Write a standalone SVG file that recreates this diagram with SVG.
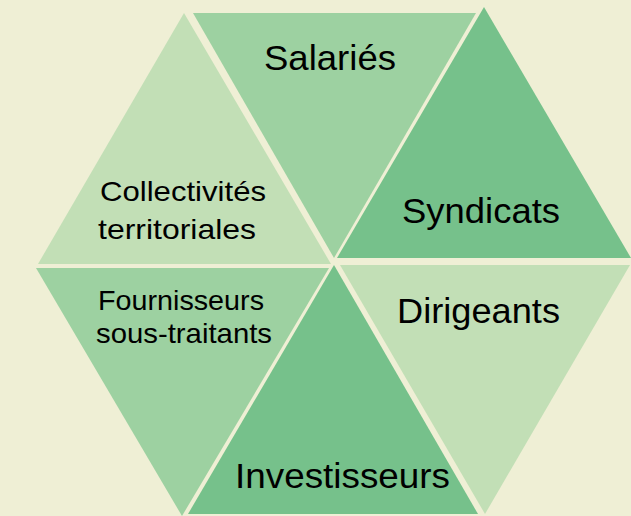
<svg xmlns="http://www.w3.org/2000/svg" width="631" height="516" viewBox="0 0 631 516">
<style>
.bg{fill:#EFEFD5}
.light{fill:#C2DFB6}
.mid{fill:#9DD1A1}
.dark{fill:#76C18B}
text{font-family:"Liberation Sans",Arial,sans-serif;fill:#000}
.big{font-size:35px}
.small{font-size:28px}
</style>
<rect class="bg" x="0" y="0" width="631" height="516"/>
<g id="collectivites">
<polygon class="light" points="184,13 38,264 331,264"/>
<text class="small" x="100" y="201" textLength="166" lengthAdjust="spacingAndGlyphs">Collectivités</text>
<text class="small" x="98" y="239" textLength="158" lengthAdjust="spacingAndGlyphs">territoriales</text>
</g>
<g id="salaries">
<polygon class="mid" points="193,13 476,13 334,258"/>
<text class="big" x="264" y="70" textLength="132" lengthAdjust="spacingAndGlyphs">Salariés</text>
</g>
<g id="syndicats">
<polygon class="dark" points="484,7 337,258 631,258"/>
<text class="big" x="402" y="223" textLength="158" lengthAdjust="spacingAndGlyphs">Syndicats</text>
</g>
<g id="dirigeants">
<polygon class="light" points="340,265 630,265 485,514"/>
<text class="big" x="397" y="323" textLength="163" lengthAdjust="spacingAndGlyphs">Dirigeants</text>
</g>
<g id="investisseurs">
<polygon class="dark" points="334,265 188,514 478,514"/>
<text class="big" x="235" y="488" textLength="215" lengthAdjust="spacingAndGlyphs">Investisseurs</text>
</g>
<g id="fournisseurs">
<polygon class="mid" points="36,268 329,268 182,516"/>
<text class="small" x="98" y="310" textLength="166" lengthAdjust="spacingAndGlyphs">Fournisseurs</text>
<text class="small" x="96" y="343" textLength="176" lengthAdjust="spacingAndGlyphs">sous-traitants</text>
</g>
<g id="connectors"></g>
</svg>
